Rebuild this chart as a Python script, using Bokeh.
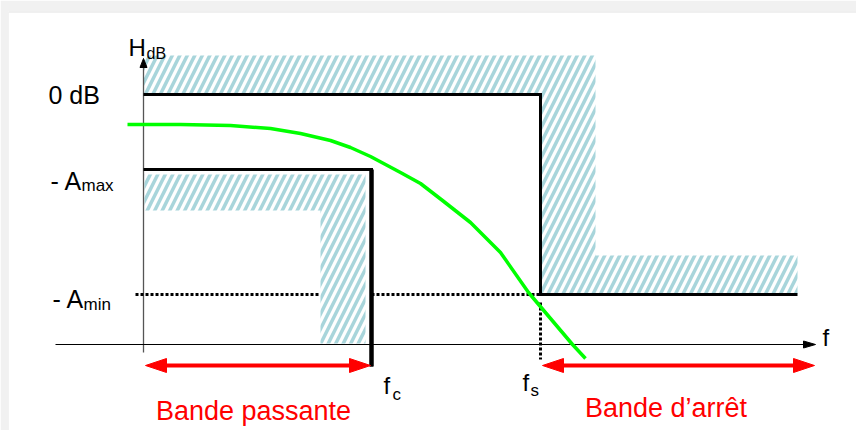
from bokeh.plotting import figure
from bokeh.models import Range1d, Span
from bokeh.core.properties import value
from bokeh.embed import file_html
from bokeh.resources import INLINE

# Low-pass filter template: levels in dB, frequencies in arbitrary units
LEVEL_0DB = 0.0
A_MAX = 7.5
A_MIN = 20.0
F_C = 2.28
F_S = 3.97
F_END = 6.54        # right end of the stop-band template
F_AXIS_END = 6.72   # tip of the frequency axis
H_AXIS = -25.0      # level where the frequency axis sits
H_TOP = 3.6         # tip of the H_dB axis

# Filter response |H| in dB along f
resp_f = [-0.16, 0.37, 0.87, 1.27, 1.57, 1.87, 2.07, 2.27, 2.57, 2.77,
          2.99, 3.27, 3.57, 3.85, 4.07, 4.29, 4.42]
resp_h = [-3.0, -3.0, -3.1, -3.4, -3.9, -4.6, -5.3, -6.2, -7.8, -8.9,
          -10.6, -12.8, -15.8, -19.8, -22.4, -25.0, -26.4]

# Band labels
band_names = ["Bande passante", "Bande d\u2019arr\u00eat"]

FONT = value("Liberation Sans")
HATCH = "#a8d5db"
RED = "#ff0000"

p = figure(width=856, height=430, output_backend="svg", toolbar_location=None,
           x_range=Range1d(-1.35, 7.13), y_range=Range1d(-33.6, 8.3),
           min_border_left=8, min_border_top=11, min_border_right=0,
           min_border_bottom=0)
p.axis.visible = False
p.grid.visible = False
p.outline_line_color = None
p.border_fill_color = "#f1f1f1"
p.background_fill_color = "white"
p.add_layout(Span(location=8.3, dimension="width", line_color="#e2e2e2", line_width=2))
p.add_layout(Span(location=-1.35, dimension="height", line_color="#e8e8e8", line_width=1))

# hatched forbidden zones
stop_f = [0, F_S + 0.55, F_S + 0.55, F_END, F_END, F_S, F_S, 0]
stop_h = [LEVEL_0DB + 3.9, LEVEL_0DB + 3.9, -A_MIN + 3.9, -A_MIN + 3.9,
          -A_MIN, -A_MIN, LEVEL_0DB, LEVEL_0DB]
pass_f = [0.01, F_C - 0.06, F_C - 0.06, F_C - 0.51, F_C - 0.51, 0.01]
pass_h = [-A_MAX - 0.5, -A_MAX - 0.5, H_AXIS + 0.1, H_AXIS + 0.1,
          -A_MAX - 4.1, -A_MAX - 4.1]
for fx, hy in ((stop_f, stop_h), (pass_f, pass_h)):
    p.patch(fx, hy, fill_alpha=0, line_color=None, hatch_pattern="/",
            hatch_color=HATCH, hatch_weight=3.5, hatch_scale=15)

# axes
p.line([0, 0], [H_AXIS - 0.8, H_TOP - 0.6], line_color="#555555", line_width=1.3)
p.patch([-0.035, 0.035, 0], [H_TOP - 0.9, H_TOP - 0.9, H_TOP], color="black")
p.line([-0.88, F_AXIS_END - 0.1], [H_AXIS, H_AXIS], line_color="black", line_width=1.2)
p.patch([F_AXIS_END - 0.12, F_AXIS_END - 0.12, F_AXIS_END],
        [H_AXIS + 0.35, H_AXIS - 0.35, H_AXIS], color="black")

# template outlines
p.line([0, F_S, F_S, F_END], [LEVEL_0DB, LEVEL_0DB, -A_MIN, -A_MIN],
       line_color="black", line_width=3, line_join="miter")
p.line([0, F_C, F_C], [-A_MAX, -A_MAX, H_AXIS - 2.2],
       line_color="black", line_width=3, line_join="miter")
p.line([F_C, F_C], [-A_MAX, H_AXIS - 2.2], line_color="black", line_width=4.5)

# dotted -Amin guide and fs marker
p.line([-0.08, F_C - 0.51], [-A_MIN, -A_MIN], line_color="black",
       line_width=3, line_dash="3 2")
p.line([F_C + 0.0, F_S], [-A_MIN, -A_MIN], line_color="black",
       line_width=3, line_dash="3 2")
p.line([F_S, F_S], [-A_MIN - 0.8, H_AXIS - 1.5], line_color="black",
       line_width=3, line_dash="3 2")

# filter response
p.line(resp_f, resp_h, line_color="#00ff00", line_width=3.5)

# red double arrows for the bands
H_ARROW = H_AXIS - 2.1
HEAD_L, HEAD_W = 0.21, 0.7
for f0, f1 in ((0.02, F_C - 0.01), (F_S + 0.02, F_AXIS_END - 0.01)):
    p.line([f0 + HEAD_L * 0.8, f1 - HEAD_L * 0.8], [H_ARROW, H_ARROW],
           line_color=RED, line_width=4)
    p.patch([f0, f0 + HEAD_L, f0 + HEAD_L], [H_ARROW, H_ARROW + HEAD_W, H_ARROW - HEAD_W],
            color=RED)
    p.patch([f1, f1 - HEAD_L, f1 - HEAD_L], [H_ARROW, H_ARROW + HEAD_W, H_ARROW - HEAD_W],
            color=RED)


def label(x, y, text, size, color="black", align="left"):
    p.text(x=[x], y=[y], text=[text], text_font=FONT,
           text_font_size=f"{size}px", text_color=color,
           text_align=align, text_baseline="alphabetic")


# axis and level labels
label(-0.15, 4.7, "H", 24)
label(0.03, 4.1, "dB", 16)
label(-0.95, LEVEL_0DB, "0 dB", 25)
label(-0.93, -A_MAX - 1.1, "- A", 25)
label(-0.62, -A_MAX - 1.6, "max", 17)
label(-0.91, -A_MIN - 0.4, "- A", 25)
label(-0.60, -A_MIN - 1.0, "min", 17)
label(6.79, H_AXIS + 0.7, "f", 24)
label(F_C + 0.12, H_AXIS - 4.1, "f", 24)
label(F_C + 0.21, H_AXIS - 5.0, "c", 17)
label(F_S - 0.18, H_AXIS - 3.8, "f", 24)
label(F_S - 0.10, H_AXIS - 4.6, "s", 17)

# band names
label(F_C / 2 - 0.04, H_AXIS - 6.6, band_names[0], 27, RED, "center")
label((F_S + F_AXIS_END) / 2 - 0.12, H_AXIS - 6.3, band_names[1], 27, RED, "center")

open("out.html", "w").write(file_html(p, INLINE))
